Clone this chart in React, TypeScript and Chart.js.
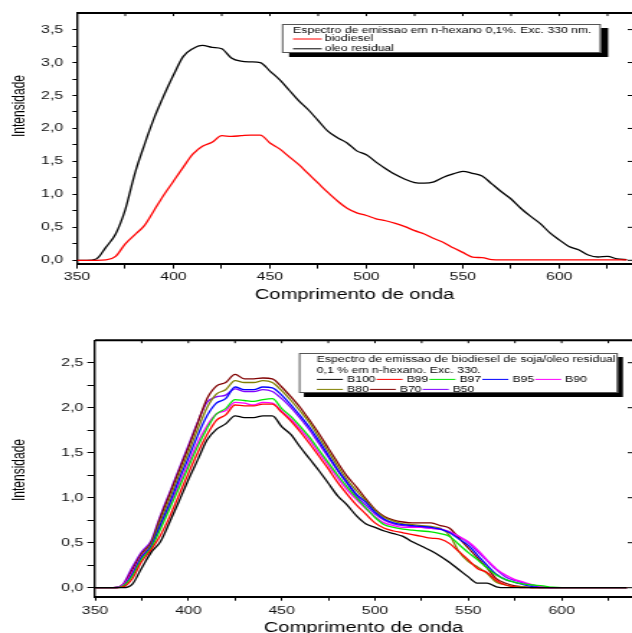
import React, { useEffect, useRef } from 'react';
import { Chart, registerables } from 'chart.js';

Chart.register(...registerables);

const FONT = '"Liberation Sans", Arial, Helvetica, sans-serif';
const CANVAS_W = 439;
const STRETCH = 632 / CANVAS_W;

// ---------- data ----------
const wavelength = [
  350, 355, 360, 365, 370, 375, 380, 385, 390, 395,
  400, 405, 410, 415, 420, 425, 430, 435, 440, 445,
  450, 455, 460, 465, 470, 475, 480, 485, 490, 495,
  500, 505, 510, 515, 520, 525, 530, 535, 540, 545,
  550, 555, 560, 565, 570, 575, 580, 585, 590, 595,
  600, 605, 610, 615, 620, 625, 630, 635,
];

// top chart
const biodiesel = [
  0, 0, 0, 0.005, 0.06, 0.25, 0.39, 0.53, 0.76, 0.99,
  1.20, 1.41, 1.61, 1.73, 1.79, 1.89, 1.88, 1.89, 1.90, 1.90,
  1.78, 1.69, 1.57, 1.45, 1.31, 1.17, 1.03, 0.90, 0.79, 0.72,
  0.68, 0.63, 0.60, 0.56, 0.51, 0.45, 0.40, 0.33, 0.27, 0.19,
  0.12, 0.05, 0.04, 0.01, 0.005, 0.005, 0.005, 0.005, 0.005, 0.005,
  0.005, 0.005, 0.005, 0.005, 0.005, 0.005, 0.005, 0.005,
];
const oleoResidual = [
  0, 0, 0.02, 0.2, 0.4, 0.77, 1.32, 1.76, 2.16, 2.50,
  2.81, 3.09, 3.21, 3.26, 3.23, 3.21, 3.07, 3.02, 3.01, 3.00,
  2.87, 2.74, 2.58, 2.42, 2.28, 2.12, 1.96, 1.86, 1.78, 1.66,
  1.60, 1.49, 1.39, 1.30, 1.23, 1.18, 1.17, 1.19, 1.26, 1.31,
  1.35, 1.32, 1.28, 1.16, 1.04, 0.93, 0.79, 0.67, 0.56, 0.42,
  0.31, 0.21, 0.16, 0.08, 0.05, 0.06, 0.02, 0.01,
];

// bottom chart
const b100 = [
  0, 0, 0, 0, 0.04, 0.22, 0.39, 0.51, 0.73, 0.96,
  1.20, 1.42, 1.64, 1.76, 1.82, 1.91, 1.89, 1.89, 1.91, 1.91,
  1.79, 1.70, 1.56, 1.43, 1.30, 1.16, 1.02, 0.92, 0.80, 0.71,
  0.67, 0.63, 0.60, 0.57, 0.51, 0.46, 0.41, 0.35, 0.28, 0.20,
  0.12, 0.05, 0.05, 0.01, 0, 0, 0, 0, 0, 0,
  0, 0, 0, 0, 0, 0, 0, 0,
];
const b99 = [
  0, 0, 0, 0.01, 0.10, 0.29, 0.42, 0.58, 0.79, 1.03,
  1.27, 1.50, 1.70, 1.86, 1.92, 2.03, 2.02, 2.02, 2.04, 2.04,
  1.95, 1.85, 1.73, 1.60, 1.46, 1.32, 1.17, 1.04, 0.92, 0.82,
  0.72, 0.66, 0.63, 0.61, 0.59, 0.57, 0.55, 0.54, 0.49, 0.40,
  0.31, 0.21, 0.17, 0.08, 0.03, 0.01, 0, 0, 0, 0,
  0, 0, 0, 0, 0, 0, 0, 0,
];
const b97 = [
  0, 0, 0, 0.02, 0.13, 0.32, 0.44, 0.65, 0.88, 1.11,
  1.34, 1.57, 1.77, 1.93, 1.99, 2.09, 2.08, 2.07, 2.09, 2.10,
  1.99, 1.90, 1.79, 1.67, 1.53, 1.39, 1.25, 1.12, 1.00, 0.89,
  0.78, 0.70, 0.67, 0.65, 0.64, 0.63, 0.62, 0.60, 0.57, 0.48,
  0.39, 0.31, 0.22, 0.14, 0.09, 0.06, 0.04, 0.03, 0.02, 0.005,
  0, 0, 0, 0, 0, 0, 0, 0,
];
const b95 = [
  0, 0, 0, 0.02, 0.15, 0.34, 0.46, 0.70, 0.94, 1.20,
  1.44, 1.69, 1.91, 2.05, 2.10, 2.23, 2.20, 2.20, 2.23, 2.22,
  2.14, 2.03, 1.91, 1.78, 1.63, 1.47, 1.31, 1.17, 1.04, 0.95,
  0.84, 0.76, 0.72, 0.70, 0.69, 0.68, 0.67, 0.65, 0.61, 0.54,
  0.47, 0.36, 0.25, 0.15, 0.09, 0.06, 0.03, 0.01, 0, 0,
  0, 0, 0, 0, 0, 0, 0, 0,
];
const b90 = [
  0, 0, 0, 0.03, 0.17, 0.35, 0.46, 0.68, 0.91, 1.15,
  1.38, 1.61, 1.80, 1.93, 1.97, 2.06, 2.05, 2.03, 2.06, 2.05,
  1.96, 1.87, 1.76, 1.64, 1.50, 1.36, 1.22, 1.09, 0.98, 0.88,
  0.79, 0.72, 0.69, 0.67, 0.67, 0.67, 0.66, 0.65, 0.62, 0.57,
  0.51, 0.42, 0.31, 0.21, 0.14, 0.09, 0.06, 0.03, 0.01, 0,
  0, 0, 0, 0, 0, 0, 0, 0,
];
const b80 = [
  0, 0, 0, 0.02, 0.16, 0.36, 0.48, 0.74, 0.99, 1.25,
  1.50, 1.76, 2.00, 2.15, 2.20, 2.30, 2.28, 2.28, 2.30, 2.28,
  2.19, 2.08, 1.96, 1.83, 1.67, 1.51, 1.35, 1.20, 1.08, 0.97,
  0.86, 0.78, 0.74, 0.71, 0.70, 0.69, 0.68, 0.66, 0.58, 0.40,
  0.29, 0.23, 0.16, 0.06, 0.03, 0.01, 0.01, 0, 0, 0,
  0, 0, 0, 0, 0, 0, 0, 0,
];
const b70 = [
  0, 0, 0, 0.03, 0.20, 0.38, 0.50, 0.78, 1.04, 1.30,
  1.56, 1.83, 2.10, 2.24, 2.28, 2.37, 2.32, 2.32, 2.33, 2.32,
  2.23, 2.12, 2.00, 1.86, 1.71, 1.55, 1.39, 1.24, 1.12, 0.99,
  0.87, 0.79, 0.75, 0.73, 0.72, 0.72, 0.72, 0.69, 0.66, 0.55,
  0.44, 0.33, 0.22, 0.10, 0.05, 0.02, 0.01, 0, 0, 0,
  0, 0, 0, 0, 0, 0, 0, 0,
];
const b50 = [
  0, 0, 0, 0.04, 0.23, 0.40, 0.52, 0.80, 1.06, 1.32,
  1.58, 1.84, 2.06, 2.12, 2.14, 2.21, 2.18, 2.18, 2.20, 2.18,
  2.10, 2.00, 1.88, 1.75, 1.60, 1.45, 1.30, 1.16, 1.02, 0.92,
  0.82, 0.75, 0.71, 0.69, 0.68, 0.67, 0.66, 0.65, 0.62, 0.57,
  0.50, 0.40, 0.30, 0.20, 0.12, 0.08, 0.05, 0.02, 0.01, 0,
  0, 0, 0, 0, 0, 0, 0, 0,
];

// ticks
const xTicks = [350, 375, 400, 425, 450, 475, 500, 525, 550, 575, 600, 625];
const xLabelTicks = [350, 400, 450, 500, 550, 600];
const yTicksTop = [0, 0.25, 0.5, 0.75, 1, 1.25, 1.5, 1.75, 2, 2.25, 2.5, 2.75, 3, 3.25, 3.5];
const yMajorTop = [0, 0.5, 1, 1.5, 2, 2.5, 3, 3.5];
const yTicksBottom = [0, 0.25, 0.5, 0.75, 1, 1.25, 1.5, 1.75, 2, 2.25, 2.5];
const yMajorBottom = [0, 0.5, 1, 1.5, 2, 2.5];

const topLabels = ['biodiesel', 'oleo residual'];
const topColors = ['#ff0000', '#000000'];
const topData = [biodiesel, oleoResidual];

const bottomLabels = ['B100', 'B99', 'B97', 'B95', 'B90', 'B80', 'B70', 'B50'];
const bottomColors = ['#000000', '#ff0000', '#00e600', '#0000ff', '#ff00ff', '#808000', '#800000', '#8000ff'];
const bottomData = [b100, b99, b97, b95, b90, b80, b70, b50];

// ---------- helpers ----------
const yLabel = (v: number) =>
  Math.abs(v * 2 - Math.round(v * 2)) < 1e-6 ? v.toFixed(1).replace('.', ',') : '';
const xLabel = (v: number) => (xLabelTicks.includes(v) ? String(v) : '');

const decorPlugin = {
  id: 'decor',
  afterDatasetsDraw(chart: any, _args: any, o: any) {
    const { ctx, chartArea: a } = chart;
    const xs = chart.scales.x;
    const ys = chart.scales.y;
    ctx.save();
    // top frame line
    ctx.strokeStyle = '#000';
    ctx.lineWidth = 2;
    ctx.beginPath();
    ctx.moveTo(a.left, a.top);
    ctx.lineTo(a.right, a.top);
    ctx.stroke();
    // mirrored inward ticks
    ctx.lineWidth = 1;
    ctx.beginPath();
    for (const v of o.topTicks) {
      const px = xs.getPixelForValue(v);
      ctx.moveTo(px, a.top);
      ctx.lineTo(px, a.top + o.inTick);
    }
    for (const v of o.rightTicks) {
      const py = ys.getPixelForValue(v);
      ctx.moveTo(a.right, py);
      ctx.lineTo(a.right - o.inTick, py);
    }
    ctx.stroke();

    // y axis title
    ctx.save();
    ctx.fillStyle = '#000';
    ctx.font = `12px ${FONT}`;
    ctx.textAlign = 'center';
    ctx.textBaseline = 'middle';
    ctx.translate(o.yTitle.x, o.yTitle.y);
    ctx.rotate(-Math.PI / 2);
    ctx.fillText(o.yTitle.text, 0, 0);
    ctx.restore();

    // legend box
    const L = o.legend;
    ctx.fillStyle = '#000';
    ctx.fillRect(L.x + L.shadow[0], L.y + L.shadow[1], L.w, L.h);
    ctx.fillStyle = '#fff';
    ctx.fillRect(L.x, L.y, L.w, L.h);
    ctx.strokeStyle = '#555';
    ctx.lineWidth = 1;
    ctx.strokeRect(L.x + 0.5, L.y + 0.5, L.w - 1, L.h - 1);
    ctx.font = `8.5px ${FONT}`;
    ctx.textAlign = 'left';
    ctx.textBaseline = 'middle';
    ctx.fillStyle = '#000';
    L.title.forEach((t: string, i: number) => ctx.fillText(t, L.textX, L.titleY[i]));
    const ds = chart.data.datasets;
    L.rows.forEach((row: number[], ri: number) => {
      let x = L.textX;
      const y = L.rowY[ri];
      row.forEach((di: number) => {
        const d = ds[di];
        ctx.strokeStyle = d.borderColor;
        ctx.lineWidth = 1;
        ctx.beginPath();
        ctx.moveTo(x, y);
        ctx.lineTo(x + L.lineLen, y);
        ctx.stroke();
        const tx = x + L.lineLen + L.gap;
        ctx.fillStyle = '#000';
        ctx.fillText(d.label, tx, y);
        x = tx + ctx.measureText(d.label).width + L.after;
      });
    });
    ctx.restore();
  },
};

function makeConfig(p: any) {
  return {
    type: 'line',
    data: {
      datasets: p.data.map((arr: number[], i: number) => ({
        label: p.labels[i],
        data: wavelength.map((w, k) => ({ x: w, y: arr[k] })),
        borderColor: p.colors[i],
        backgroundColor: p.colors[i],
        borderWidth: 1.3,
        pointRadius: 0,
        cubicInterpolationMode: 'monotone',
        fill: false,
      })),
    },
    options: {
      animation: false,
      responsive: false,
      devicePixelRatio: 1,
      layout: { padding: { top: p.padTop, left: 0, right: 0, bottom: 0 } },
      plugins: {
        legend: { display: false },
        tooltip: { enabled: false },
        decor: p.decor,
      },
      scales: {
        x: {
          type: 'linear',
          min: 350,
          max: 637.7,
          afterBuildTicks: (s: any) => {
            s.ticks = xTicks.map((v) => ({ value: v }));
          },
          afterFit: (s: any) => {
            s.height = p.xHeight;
          },
          border: { display: true, color: '#000', width: 2 },
          grid: { drawOnChartArea: false, drawTicks: true, tickLength: p.xTickLen, color: '#000', tickWidth: 1 },
          ticks: {
            autoSkip: false,
            maxRotation: 0,
            minRotation: 0,
            padding: p.xTickPad,
            color: '#111',
            font: { family: FONT, size: 11 },
            callback: (v: any) => xLabel(Number(v)),
          },
          title: {
            display: true,
            text: 'Comprimento de onda',
            color: '#000',
            font: { family: FONT, size: 14 },
            padding: { top: 0, bottom: p.xTitlePad },
          },
        },
        y: {
          type: 'linear',
          min: p.yMin,
          max: p.yMax,
          afterBuildTicks: (s: any) => {
            s.ticks = p.yTicks.map((v: number) => ({ value: v }));
          },
          afterFit: (s: any) => {
            s.width = p.yWidth;
          },
          border: { display: true, color: '#000', width: 1.4 },
          grid: { drawOnChartArea: false, drawTicks: true, tickLength: p.yTickLen, color: '#000', tickWidth: 1 },
          ticks: {
            autoSkip: false,
            padding: p.yTickPad,
            color: '#111',
            font: { family: FONT, size: 11 },
            callback: (v: any) => yLabel(Number(v)),
          },
        },
      },
    },
    plugins: [decorPlugin],
  };
}

function ChartBox(props: { top: number; height: number; cfg: any }) {
  const ref = useRef<HTMLCanvasElement | null>(null);
  useEffect(() => {
    if (!ref.current) return;
    const chart = new Chart(ref.current, props.cfg);
    return () => chart.destroy();
  }, []);
  return (
    <div
      style={{
        position: 'absolute',
        left: 0,
        top: props.top,
        width: CANVAS_W,
        height: props.height,
        transform: `scaleX(${STRETCH})`,
        transformOrigin: '0 0',
      }}
    >
      <canvas ref={ref} width={CANVAS_W} height={props.height} style={{ display: 'block' }} />
    </div>
  );
}

export default function App() {
  const topCfg = makeConfig({
    data: topData,
    labels: topLabels,
    colors: topColors,
    padTop: 12.8,
    xHeight: 52.4,
    xTickLen: 5,
    xTickPad: 2,
    xTitlePad: 12.6,
    yMin: -0.05,
    yMax: 3.75,
    yTicks: yTicksTop,
    yWidth: 53.5,
    yTickLen: 3.2,
    yTickPad: 6.5,
    decor: {
      topTicks: xTicks.slice(1),
      rightTicks: yMajorTop,
      inTick: 3,
      yTitle: { text: 'Intensidade', x: 13.2, y: 106 },
      legend: {
        x: 195.8, y: 24, w: 221.6, h: 29, shadow: [5, 4],
        textX: 203.5,
        title: ['Espectro de emissao em n-hexano 0,1%. Exc. 330 nm.'],
        titleY: [30.5],
        rows: [[0], [1]],
        rowY: [39, 48.8],
        lineLen: 20, gap: 2, after: 1,
      },
    },
  });
  const bottomCfg = makeConfig({
    data: bottomData,
    labels: bottomLabels,
    colors: bottomColors,
    padTop: 24.2,
    xHeight: 49.3,
    xTickLen: 4,
    xTickPad: 3.5,
    xTitlePad: 9.6,
    yMin: -0.1,
    yMax: 2.75,
    yTicks: yTicksBottom,
    yWidth: 66,
    yTickLen: 5.3,
    yTickPad: 2.8,
    decor: {
      topTicks: xTicks.slice(1),
      rightTicks: yMajorBottom,
      inTick: 3,
      yTitle: { text: 'Intensidade', x: 13.2, y: 154 },
      legend: {
        x: 207.6, y: 37, w: 221.6, h: 40, shadow: [3.5, 4],
        textX: 220.1,
        title: ['Espectro de emissao de biodiesel de soja/oleo residual', '0,1 % em n-hexano. Exc. 330.'],
        titleY: [44, 54.4],
        rows: [[0, 1, 2, 3, 4], [5, 6, 7]],
        rowY: [63.4, 73.4],
        lineLen: 18.1, gap: 2.8, after: 0.7,
      },
    },
  });
  return (
    <div
      style={{
        position: 'fixed',
        left: 0,
        top: 0,
        width: 632,
        height: 633,
        overflow: 'hidden',
        background: '#fff',
      }}
    >
      <ChartBox top={0} height={316} cfg={topCfg} />
      <ChartBox top={316} height={330} cfg={bottomCfg} />
    </div>
  );
}
